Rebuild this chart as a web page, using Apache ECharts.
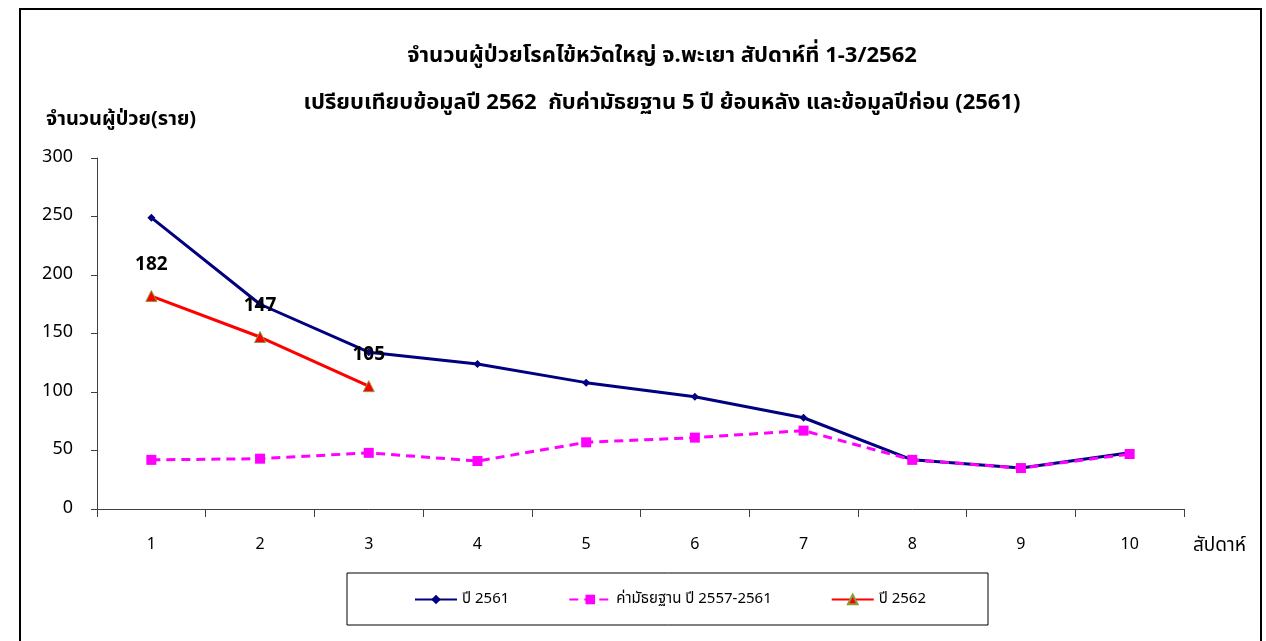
<!DOCTYPE html>
<html><head><meta charset="utf-8">
<script src="https://cdn.jsdelivr.net/npm/echarts@6/dist/echarts.min.js"></script>
<style>html,body{margin:0;padding:0;background:#fff}#c{width:1266px;height:641px}</style>
</head><body><div id="c"></div>
<script>
const weeks = ['1','2','3','4','5','6','7','8','9','10'];
const y2561 = [249, 175, 134, 124, 108, 96, 78, 42, 35, 48];
const median = [42, 43, 48, 41, 57, 61, 67, 42, 35, 47];
const y2562 = [182, 147, 105];
const yTicks = [0, 50, 100, 150, 200, 250, 300];
const names = ['ปี 2561', 'ค่ามัธยฐาน ปี 2557-2561', 'ปี 2562'];
const FONT = 'Tahoma, "Noto Sans Thai", "Noto Sans", "DejaVu Sans", sans-serif';

const chart = echarts.init(document.getElementById('c'));
chart.setOption({
  backgroundColor: '#fff',
  textStyle: { fontFamily: FONT },
  title: {
    text: 'จำนวนผู้ป่วยโรคไข้หวัดใหญ่ จ.พะเยา สัปดาห์ที่ 1-3/2562\nเปรียบเทียบข้อมูลปี 2562  กับค่ามัธยฐาน 5 ปี ย้อนหลัง และข้อมูลปีก่อน (2561)',
    left: 657, textAlign: 'center', top: 29,
    textStyle: { fontFamily: FONT, fontSize: 22, fontWeight: 'bold', color: '#000', lineHeight: 47 }
  },
  graphic: [
    { type: 'rect', shape: { x: 20, y: 9, width: 1241, height: 640 }, style: { fill: 'none', stroke: '#000', lineWidth: 2 }, silent: true },
    { type: 'text', left: 46, top: 111, style: { text: 'จำนวนผู้ป่วย(ราย)', fontFamily: FONT, fontSize: 20, fontWeight: 'bold', fill: '#000' } },
    { type: 'text', left: 1193, top: 538, style: { text: 'สัปดาห์', fontFamily: FONT, fontSize: 19, fill: '#000' } }
  ],
  legend: {
    left: 347, top: 573, width: 640,
    padding: [19, 62, 18, 67],
    borderColor: '#000', borderWidth: 1,
    itemWidth: 42, itemHeight: 12, itemGap: 59,
    textStyle: { fontFamily: FONT, fontSize: 15, color: '#000' },
    data: names
  },
  grid: { left: 97, right: 82, top: 158, bottom: 132 },
  xAxis: {
    type: 'category', data: weeks, boundaryGap: true,
    axisLine: { lineStyle: { color: '#404040', width: 1 } },
    axisTick: { show: true, inside: false, length: 8, lineStyle: { color: '#404040' } },
    axisLabel: { fontFamily: FONT, fontSize: 16, color: '#000', margin: 29 },
    splitLine: { show: false }
  },
  yAxis: {
    type: 'value', min: yTicks[0], max: yTicks[yTicks.length - 1], interval: 50,
    axisLine: { show: true, lineStyle: { color: '#404040', width: 1 } },
    axisTick: { show: true, length: 6, lineStyle: { color: '#404040' } },
    axisLabel: { fontFamily: FONT, fontSize: 18, color: '#000', margin: 24 },
    splitLine: { show: false }
  },
  series: [
    {
      name: names[0], type: 'line', data: y2561,
      symbol: 'diamond', symbolSize: 8,
      lineStyle: { color: '#000080', width: 3 },
      itemStyle: { color: '#000080' }, z: 3
    },
    {
      name: names[1], type: 'line', data: median,
      symbol: 'rect', symbolSize: 10,
      lineStyle: { color: '#ff00ff', width: 3, type: [9, 6] },
      itemStyle: { color: '#ff00ff' }, z: 4
    },
    {
      name: names[2], type: 'line', data: y2562,
      symbol: 'triangle', symbolSize: 11,
      lineStyle: { color: '#ff0000', width: 3 },
      itemStyle: { color: '#ff0000', borderColor: '#8a9a3a', borderWidth: 1 },
      label: { show: true, position: 'top', distance: 14, fontFamily: FONT, fontSize: 19, fontWeight: 'bold', color: '#000' },
      z: 5
    }
  ]
});
</script></body></html>
